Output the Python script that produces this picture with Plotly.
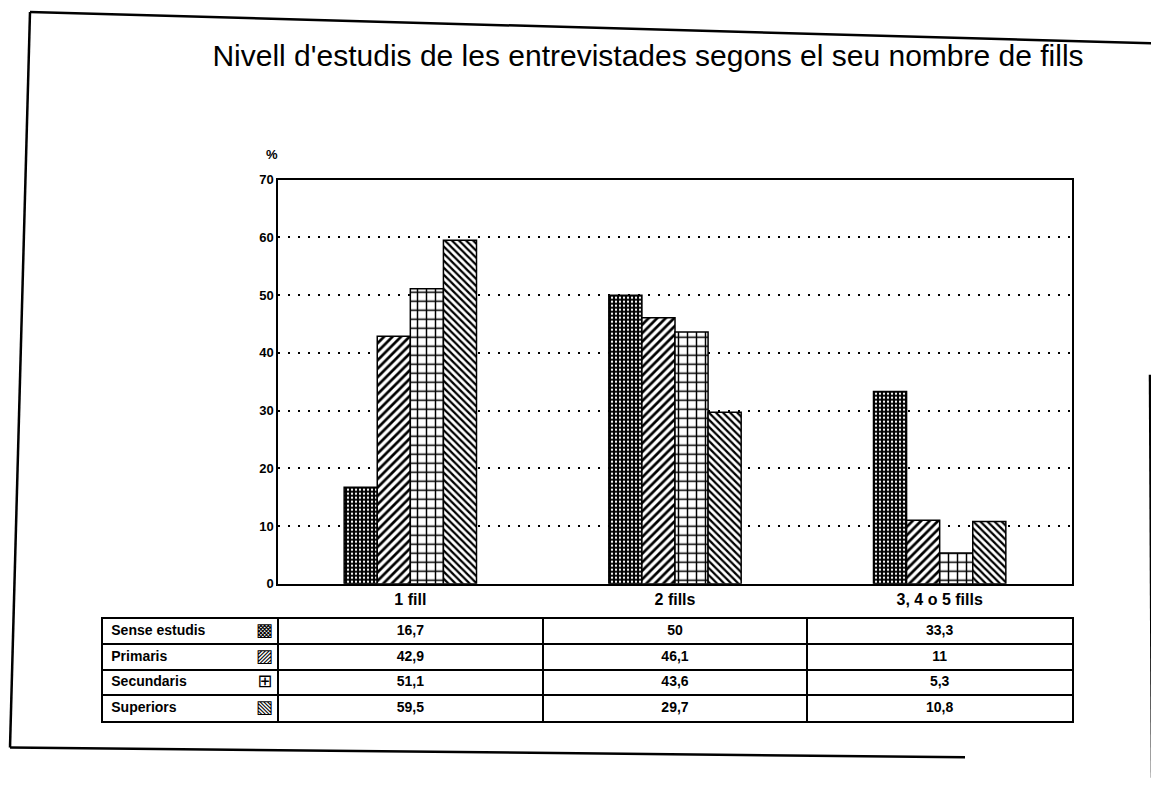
import plotly.graph_objects as go

CATEGORIES = ["1 fill", "2 fills", "3, 4 o 5 fills"]
SERIES = ["Sense estudis", "Primaris", "Secundaris", "Superiors"]
SENSE_ESTUDIS = [16.7, 50, 33.3]
PRIMARIS = [42.9, 46.1, 11]
SECUNDARIS = [51.1, 43.6, 5.3]
SUPERIORS = [59.5, 29.7, 10.8]
Y_TICKS = [0, 10, 20, 30, 40, 50, 60, 70]

TITLE = "Nivell d'estudis de les entrevistades segons el seu nombre de fills"

# figure sized so the page (with the 8px body margin) fits the window exactly
OFF = 8
W, H = 1159 - 2 * OFF, 786 - 2 * OFF
FONT = "Liberation Sans, Arial, sans-serif"

# black and white hatch fills, one per series
PATTERNS = {
    "Sense estudis": dict(shape=".", bgcolor="black", fgcolor="white", size=4, solidity=0.25),
    "Primaris": dict(shape="/", bgcolor="white", fgcolor="black", size=6, solidity=0.45),
    "Secundaris": dict(shape="+", bgcolor="white", fgcolor="black", size=9, solidity=0.3),
    "Superiors": dict(shape="\\", bgcolor="white", fgcolor="black", size=5, solidity=0.45),
}
SWATCHES = {"Sense estudis": "▩", "Primaris": "▨", "Secundaris": "⊞", "Superiors": "▧"}

# layout in window pixels
PLOT_X = (278, 1072)
PLOT_Y = (588, 176)
TABLE_Y = (728, 624)
LABEL_COL = 0.66  # width of the row-header column, in category widths


def px_x(x):
    return (x - OFF) / W


def px_y(y):
    return 1 - (y - OFF) / H


def fmt(v):
    return ("%g" % v).replace(".", ",")


values = [SENSE_ESTUDIS, PRIMARIS, SECUNDARIS, SUPERIORS]
n_cat = len(CATEGORIES)
cat_px = (PLOT_X[1] - PLOT_X[0]) / n_cat

fig = go.Figure()

# bars
for name, vals in zip(SERIES, values):
    fig.add_trace(
        go.Bar(
            x=CATEGORIES,
            y=vals,
            name=name,
            marker=dict(
                pattern=dict(fillmode="replace", **PATTERNS[name]),
                line=dict(color="black", width=1.5),
            ),
            showlegend=False,
        )
    )

# data table below the chart, drawn on its own axes (columns = categories, rows = series)
for row, (name, vals) in enumerate(zip(SERIES, values)):
    fig.add_trace(
        go.Scatter(
            x=list(range(n_cat)),
            y=[row] * n_cat,
            mode="text",
            text=[fmt(v) for v in vals],
            textposition="middle center",
            textfont=dict(family=FONT, size=14, color="black", weight="bold"),
            xaxis="x2",
            yaxis="y2",
            showlegend=False,
            hoverinfo="skip",
        )
    )

left_edge = -0.5 - LABEL_COL
fig.add_trace(
    go.Scatter(
        x=[left_edge + 0.03] * len(SERIES),
        y=list(range(len(SERIES))),
        mode="text",
        text=SERIES,
        textposition="middle right",
        textfont=dict(family=FONT, size=14, color="black", weight="bold"),
        xaxis="x2",
        yaxis="y2",
        showlegend=False,
        hoverinfo="skip",
    )
)
fig.add_trace(
    go.Scatter(
        x=[-0.52] * len(SERIES),
        y=list(range(len(SERIES))),
        mode="text",
        text=[SWATCHES[n] for n in SERIES],
        textposition="middle left",
        textfont=dict(family="DejaVu Sans", size=18, color="black"),
        xaxis="x2",
        yaxis="y2",
        showlegend=False,
        hoverinfo="skip",
    )
)

# scanned page frame
frame = [
    (30, 5, 1159, 37),
    (30, 5, 10, 755),
    (10, 755, 965, 765),
    (1150, 375, 1152, 786),
]
shapes = [
    dict(type="line", xref="paper", yref="paper",
         x0=px_x(a), y0=px_y(b), x1=px_x(c), y1=px_y(d),
         line=dict(color="black", width=2.5))
    for a, b, c, d in frame
]

table_axis = dict(
    showline=True,
    linecolor="black",
    linewidth=1.5,
    mirror=True,
    showgrid=True,
    gridcolor="black",
    gridwidth=1.5,
    zeroline=False,
    showticklabels=False,
    ticks="",
    fixedrange=True,
)

fig.update_layout(
    width=W,
    height=H,
    margin=dict(l=0, r=0, t=0, b=0),
    paper_bgcolor="white",
    plot_bgcolor="white",
    font=dict(family=FONT, color="black"),
    barmode="group",
    bargap=0.5,
    bargroupgap=0,
    shapes=shapes,
    title=dict(
        text=TITLE,
        x=px_x(648),
        xanchor="center",
        y=px_y(55),
        yanchor="middle",
        font=dict(family=FONT, size=30, color="black"),
    ),
    xaxis=dict(
        domain=[px_x(PLOT_X[0]), px_x(PLOT_X[1])],
        anchor="y",
        showline=True,
        linecolor="black",
        linewidth=1.5,
        mirror=True,
        ticks="",
        tickfont=dict(family=FONT, size=16, color="black", weight="bold"),
        showgrid=False,
    ),
    yaxis=dict(
        domain=[px_y(PLOT_Y[0]), px_y(PLOT_Y[1])],
        anchor="x",
        range=[0, 70],
        tickvals=Y_TICKS,
        ticks="",
        showline=True,
        linecolor="black",
        linewidth=1.5,
        mirror=True,
        showgrid=True,
        gridcolor="black",
        griddash="2px,8px",
        gridwidth=1.5,
        zeroline=False,
        tickfont=dict(family=FONT, size=13, color="black", weight="bold"),
    ),
    xaxis2=dict(
        table_axis,
        domain=[px_x(PLOT_X[0] - LABEL_COL * cat_px), px_x(PLOT_X[1])],
        anchor="y2",
        range=[left_edge, n_cat - 0.5],
        tickvals=[i - 0.5 for i in range(n_cat)],
    ),
    yaxis2=dict(
        table_axis,
        domain=[px_y(TABLE_Y[0]), px_y(TABLE_Y[1])],
        anchor="x2",
        range=[len(SERIES) - 0.5, -0.5],
        tickvals=[i + 0.5 for i in range(len(SERIES) - 1)],
    ),
    annotations=[
        dict(text="<b>%</b>", xref="paper", yref="paper",
             x=px_x(272), y=px_y(150), xanchor="center", yanchor="middle",
             showarrow=False, font=dict(family=FONT, size=13, color="black")),
    ],
)

fig.write_html("out.html")
